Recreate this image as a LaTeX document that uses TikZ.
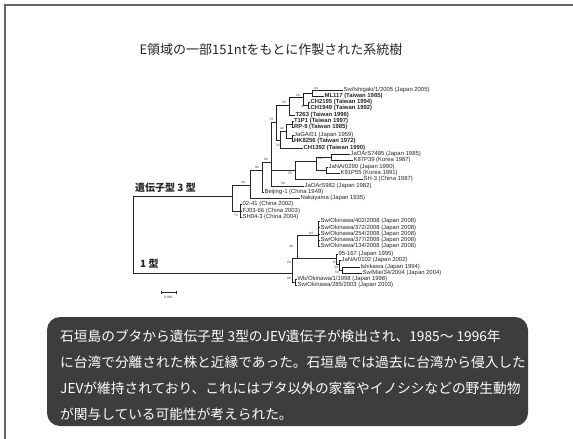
\documentclass[tikz,border=0pt]{standalone}
\usepackage{fontspec}
\setmainfont{Liberation Sans}
\newfontfamily\jp{Noto Sans CJK JP}
\begin{document}
\begin{tikzpicture}[x=1pt,y=-1pt,
  leaf/.style={anchor=west, inner sep=0.4pt, font=\fontsize{5.9}{6}\selectfont, text=black!85},
  leafb/.style={leaf, font=\fontsize{5.9}{6}\selectfont\bfseries},
  bs/.style={inner sep=0pt, font=\fontsize{3.2}{3.5}\selectfont, text=black!80},
  br/.style={draw=black!85, line width=0.6pt},
  brt/.style={draw=black!90, line width=1.0pt},
  boxtxt/.style={anchor=west, inner sep=0pt, text=white, font=\jp\fontsize{13.7}{15}\selectfont},
  frame/.style={draw=black!60, line width=1.6pt}]
\useasboundingbox (0,0) rectangle (573,439);
\fill[white] (0,0) rectangle (573,439);
% page frame
\draw[frame] (5,439) -- (5,5) -- (573,5);
% title
\node[font=\jp\fontsize{13}{15}\selectfont, text=black!85] (title) at (271,50) {E領域の一部151ntをもとに作製された系統樹};
% genotype labels
\node[anchor=west, inner sep=0pt, font=\jp\bfseries\fontsize{10}{12}\selectfont, text=black!85] (g3lab) at (135,188) {遺伝子型 3 型};
\node[anchor=west, inner sep=0pt, font=\jp\bfseries\fontsize{10}{12}\selectfont, text=black!85] (g1lab) at (140,264) {1 型};
% internal coordinates
\coordinate (root) at (133,235);
\coordinate (X0) at (232,196);
\coordinate (A) at (250,185);
\coordinate (C) at (240,211);
\coordinate (B) at (262,170);
\coordinate (D) at (271,162);
\coordinate (F) at (276,122);
\coordinate (H) at (289,105);
\coordinate (I) at (303,97);
\coordinate (J) at (312,93);
\coordinate (K) at (308.5,105);
\coordinate (P) at (280,140);
\coordinate (M) at (286,131);
\coordinate (N) at (292,124);
\coordinate (O) at (292,138);
\coordinate (G) at (295,170);
\coordinate (Q) at (316,161);
\coordinate (R) at (331,157);
\coordinate (S) at (326,170);
\coordinate (G1) at (292,273);
\coordinate (Q1) at (297,258);
\coordinate (R1) at (295,282);
\coordinate (S1) at (318,235);
\coordinate (T1) at (336,258);
\coordinate (V1) at (339,264);
\coordinate (W1) at (342,270);
% leaves
\node[leaf]  (l1)  at (343,90)  {Sw/Ishigaki/1/2005 (Japan 2005)};
\node[leafb] (l2)  at (324,96)  {ML117 (Taiwan 1985)};
\node[leafb] (l3)  at (310,102) {CH2195 (Taiwan 1994)};
\node[leafb] (l4)  at (310,108) {CH1949 (Taiwan 1992)};
\node[leafb] (l5)  at (295,115) {T263 (Taiwan 1996)};
\node[leafb] (l6)  at (293.5,121) {T1P1 (Taiwan 1997)};
\node[leafb] (l7)  at (293.5,127) {RP-9 (Taiwan 1985)};
\node[leaf]  (l8)  at (293.5,135) {JaGA/01 (Japan 1959)};
\node[leafb] (l9)  at (293.5,141) {HK8256 (Taiwan 1972)};
\node[leafb] (l10) at (303,148) {CH1392 (Taiwan 1990)};
\node[leaf]  (l11) at (350,154) {JaOArS7485 (Japan 1985)};
\node[leaf]  (l12) at (353,160) {K87P39 (Korea 1987)};
\node[leaf]  (l13) at (328,167) {JaNAr0290 (Japan 1990)};
\node[leaf]  (l14) at (340,173) {K91P55 (Korea 1991)};
\node[leaf]  (l15) at (363,179) {SH-3 (China 1987)};
\node[leaf]  (l16) at (304,186) {JaOArS982 (Japan 1982)};
\node[leaf]  (l17) at (264,192) {Beijing-1 (China 1949)};
\node[leaf]  (l18) at (300,198) {Nakayama (Japan 1935)};
\node[leaf]  (l19) at (242,204) {02-41 (China 2002)};
\node[leaf]  (l20) at (242,211) {FJ03-66 (China 2003)};
\node[leaf]  (l21) at (242,217) {SH04-3 (China 2004)};
\node[leaf]  (l22) at (320,221) {Sw/Okinawa/402/2008 (Japan 2008)};
\node[leaf]  (l23) at (320,227.5) {Sw/Okinawa/372/2008 (Japan 2008)};
\node[leaf]  (l24) at (320,234) {Sw/Okinawa/254/2008 (Japan 2008)};
\node[leaf]  (l25) at (320,240) {Sw/Okinawa/377/2008 (Japan 2008)};
\node[leaf]  (l26) at (320,246) {Sw/Okinawa/134/2008 (Japan 2008)};
\node[leaf]  (l27) at (338,254) {95-167 (Japan 1995)};
\node[leaf]  (l28) at (341,260) {JaNAr0102 (Japan 2002)};
\node[leaf]  (l29) at (360,267) {Ishikawa (Japan 1994)};
\node[leaf]  (l30) at (362,273) {Sw/Mie/34/2004 (Japan 2004)};
\node[leaf]  (l31) at (297,279) {Wb/Okinawa/1/1998 (Japan 1998)};
\node[leaf]  (l32) at (297,285) {Sw/Okinawa/285/2003 (Japan 2003)};
% edges genotype 3
\draw[br] (root) |- (X0);
\draw[br] (root) |- (G1);
\draw[br] (X0) |- (A);
\draw[br] (X0) |- (C);
\draw[br] (C) |- (l19.west);
\draw[br] (C) |- (l20.west);
\draw[br] (C) |- (l21.west);
\draw[br] (A) |- (B);
\draw[br] (A) |- (l18.west);
\draw[br] (B) |- (D);
\draw[br] (B) |- (l17.west);
\draw[br] (D) |- (F);
\draw[br] (D) |- (G);
\draw[br] (D) |- (l16.west);
\draw[brt] (F) |- (H);
\draw[br] (F) |- (P);
\draw[brt] (H) |- (I);
\draw[br] (H) |- (l5.west);
\draw[brt] (I) |- (J);
\draw[br] (I) |- (K);
\draw[br] (J) |- (l1.west);
\draw[br] (J) |- (l2.west);
\draw[br] (K) |- (l3.west);
\draw[br] (K) |- (l4.west);
\draw[br] (P) |- (M);
\draw[br] (P) |- (l10.west);
\draw[br] (M) |- (N);
\draw[br] (M) |- (O);
\draw[br] (N) |- (l6.west);
\draw[br] (N) |- (l7.west);
\draw[br] (O) |- (l8.west);
\draw[br] (O) |- (l9.west);
\draw[br] (G) |- (Q);
\draw[br] (G) |- (l15.west);
\draw[br] (Q) |- (R);
\draw[br] (Q) |- (S);
\draw[brt] (R) |- (l11.west);
\draw[br] (R) |- (l12.west);
\draw[br] (S) |- (l13.west);
\draw[br] (S) |- (l14.west);
% edges genotype 1
\draw[br] (G1) |- (Q1);
\draw[br] (G1) |- (R1);
\draw[br] (R1) |- (l31.west);
\draw[br] (R1) |- (l32.west);
\draw[br] (Q1) |- (S1);
\draw[br] (Q1) |- (T1);
\draw[br] (S1) |- (l22.west);
\draw[br] (S1) |- (l23.west);
\draw[br] (S1) |- (l24.west);
\draw[br] (S1) |- (l25.west);
\draw[br] (S1) |- (l26.west);
\draw[br] (T1) |- (l27.west);
\draw[br] (T1) |- (V1);
\draw[br] (V1) |- (l28.west);
\draw[br] (V1) |- (W1);
\draw[brt] (W1) |- (l29.west);
\draw[brt] (W1) |- (l30.west);
% bootstrap values
\node[bs] (b1) at (243,182) {44};
\node[bs] (b2) at (236,215) {72};
\node[bs] (b3) at (257,167) {96};
\node[bs] (b4) at (271,119) {79};
\node[bs] (b5) at (266,159) {99};
\node[bs] (b6) at (284,102) {33};
\node[bs] (b7) at (298,95) {26};
\node[bs] (b8) at (316,88.5) {44};
\node[bs] (b9) at (303,106.5) {47};
\node[bs] (b10) at (282,128) {42};
\node[bs] (b11) at (278,145) {25};
\node[bs] (b12) at (320,158) {60};
\node[bs] (b13) at (290,173) {55};
\node[bs] (b14) at (283,183) {58};
\node[bs] (b15) at (311,233) {64};
\node[bs] (b16) at (291,246) {46};
\node[bs] (b17) at (289,262) {29};
\node[bs] (b18) at (335,262) {87};
\node[bs] (b19) at (336,267) {34};
\node[bs] (b20) at (337,272) {58};
\node[bs] (b21) at (289,278) {99};
% scale bar
\coordinate (sb1) at (161,292);
\coordinate (sb2) at (176,292);
\draw[br] (sb1) -- (sb2);
\draw[br] (161,290.5) -- (161,293.5);
\draw[br] (176,290.5) -- (176,293.5);
\node[bs] (sblab) at (168.5,297) {0.005};
% text box
\fill[black!76, rounded corners=13pt] (47,317) rectangle (528,426);
\node[boxtxt] (t1) at (60,336) {石垣島のブタから遺伝子型 3型のJEV遺伝子が検出され、1985～ 1996年};
\node[boxtxt] (t2) at (60,362) {に台湾で分離された株と近縁であった。石垣島では過去に台湾から侵入した};
\node[boxtxt] (t3) at (60,388) {JEVが維持されており、これにはブタ以外の家畜やイノシシなどの野生動物};
\node[boxtxt] (t4) at (60,414) {が関与している可能性が考えられた。};
\end{tikzpicture}
\end{document}
